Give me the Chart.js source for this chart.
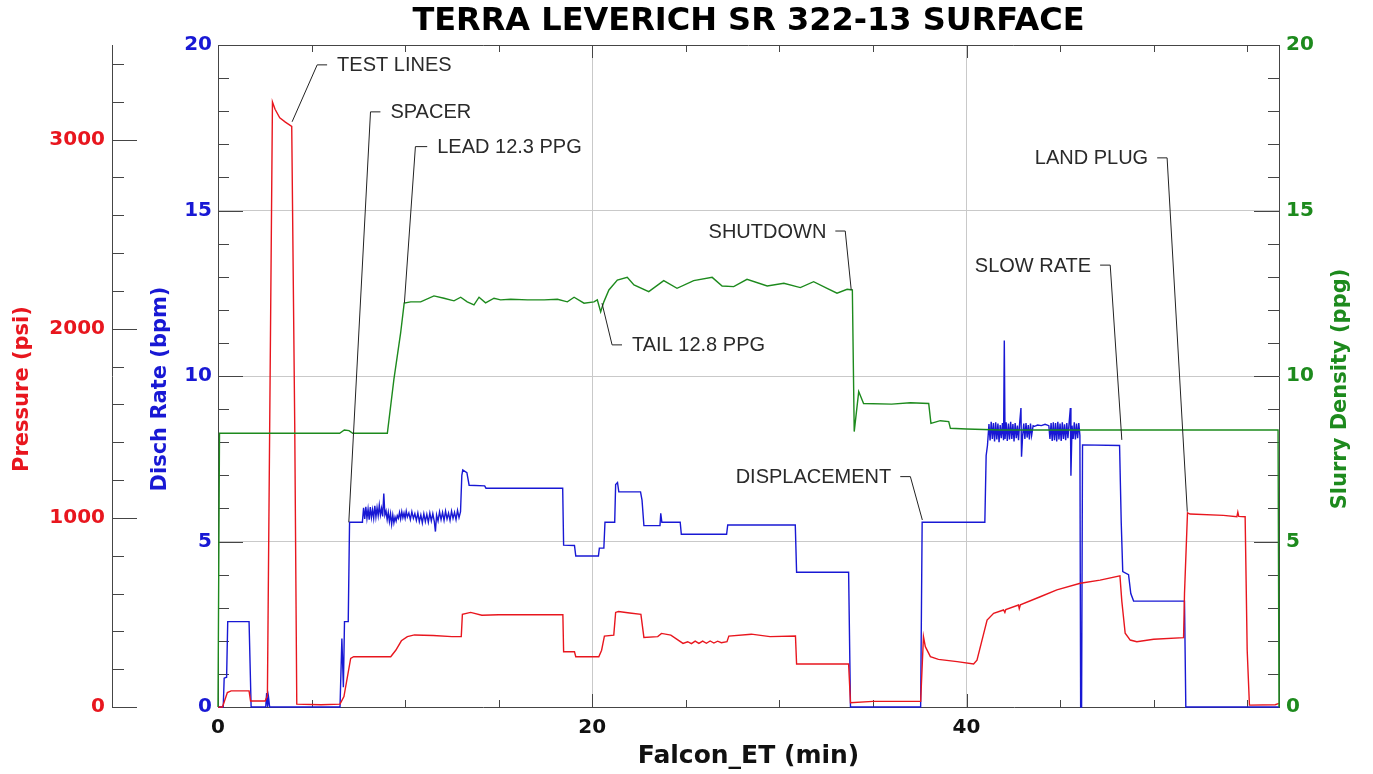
<!DOCTYPE html>
<html>
<head>
<meta charset="utf-8">
<title>TERRA LEVERICH SR 322-13 SURFACE</title>
<script src="https://cdn.jsdelivr.net/npm/chart.js@4.4.1/dist/chart.umd.min.js"></script>
<style>
  html, body { margin: 0; padding: 0; background: #fff; overflow: hidden; }
  #wrap { width: 1373px; height: 774px; }
</style>
</head>
<body>
<div id="wrap"><canvas id="jobChart" width="1373" height="774"></canvas></div>
<script>
// ---- data (time in minutes) ----
const chartTitle = 'TERRA LEVERICH SR 322-13 SURFACE';
const xTicks = [0, 20, 40];
const rateTicks = [0, 5, 10, 15, 20];
const pressureTicks = [0, 1000, 2000, 3000];
const densityTicks = [0, 5, 10, 15, 20];

// Disch Rate (bpm)
const rateT = [0, 0.28, 0.33, 0.46, 0.52, 1.66, 1.77, 2.55, 2.6, 2.65, 2.7, 2.76, 6.52, 6.62, 6.7, 6.76, 6.96, 7.03, 7.7,
  7.72, 7.78, 7.84, 7.90, 7.96, 8.02, 8.08, 8.14, 8.20, 8.26, 8.32, 8.38, 8.44, 8.50, 8.56, 8.62, 8.68, 8.74, 8.80, 8.86,
  8.92, 8.98, 9.04, 9.10, 9.16, 9.22, 9.28, 9.34, 9.40, 9.46, 9.52, 9.58, 9.64, 9.70, 9.76, 9.82, 9.88, 9.94, 10.00,
  10.06, 10.12, 10.20, 10.28, 10.36, 10.44, 10.52, 10.60, 10.68, 10.76, 10.84, 10.92, 11.00, 11.08, 11.16, 11.24, 11.32,
  11.40, 11.48, 11.56, 11.62, 11.68, 11.76, 11.84, 11.92, 12.00, 12.08, 12.16, 12.24, 12.32, 12.40, 12.48, 12.56, 12.64,
  12.72, 12.80, 12.88, 12.96,
  13.03, 13.08, 13.3, 13.42, 14.25, 14.32, 18.42, 18.47, 19.05, 19.12, 20.33, 20.38, 20.62, 20.68, 21.2, 21.25, 21.35,
  21.42, 22.58, 22.66, 22.76, 23.62, 23.66, 23.72, 24.7, 24.76, 27.18, 27.24, 30.85, 30.92, 33.7, 33.8, 37.55, 37.63, 40.98,
  41.05, 41.12, 41.20, 41.26, 41.32, 41.38, 41.44, 41.50, 41.56, 41.62, 41.68, 41.74, 41.80, 41.86, 41.92, 41.98, 42.02,
  42.06, 42.12, 42.18, 42.24, 42.30, 42.36, 42.42, 42.48, 42.54, 42.60, 42.66, 42.72, 42.78, 42.84, 42.91, 42.94, 43.00,
  43.06, 43.12, 43.18, 43.24, 43.30, 43.36, 43.42, 43.48, 43.56, 43.64, 43.80, 44.00, 44.20, 44.40, 44.46, 44.52, 44.58,
  44.64, 44.70, 44.76, 44.82, 44.88, 44.94, 45.00, 45.06, 45.12, 45.18, 45.24, 45.30, 45.36, 45.42, 45.48, 45.55, 45.58,
  45.64, 45.70, 45.76, 45.82, 45.88, 45.94, 46.00, 46.06,
  46.1, 46.15, 46.2, 48.18, 48.27, 48.35, 48.66, 48.78, 48.93, 51.65, 51.72, 56.7];
const rateV = [0, 0, 0.87, 0.9, 2.58, 2.58, 0, 0, 0.42, 0, 0.3, 0, 0, 2.07, 0.6, 2.58, 2.58, 5.58, 5.58,
  5.62, 6.02, 5.68, 6.05, 5.70, 5.98, 5.66, 6.04, 5.72, 5.96, 5.70, 6.08, 5.74, 6.02, 5.78, 6.10, 5.80, 6.00, 5.76, 6.45,
  5.80, 5.92, 5.66, 5.88, 5.60, 5.84, 5.52, 5.80, 5.56, 5.74, 5.62, 5.78, 5.70, 5.88, 5.68, 5.90, 5.72, 5.86, 5.70,
  5.92, 5.74, 5.86, 5.66, 5.90, 5.70, 5.84, 5.64, 5.86, 5.60, 5.80, 5.56, 5.84, 5.60, 5.82, 5.58, 5.86,
  5.62, 5.84, 5.60, 5.30, 5.80, 5.62, 5.90, 5.66, 5.88, 5.64, 5.92, 5.68, 5.86, 5.64, 5.92, 5.70, 5.88,
  5.66, 5.94, 5.72, 5.90,
  7.0, 7.16, 7.08, 6.7, 6.68, 6.61, 6.61, 4.89, 4.88, 4.56, 4.56, 4.8, 4.8, 5.58, 5.58, 6.72, 6.78,
  6.5, 6.5, 6.25, 5.48, 5.48, 5.85, 5.58, 5.58, 5.22, 5.22, 5.5, 5.5, 4.07, 4.07, 0, 0, 5.58, 5.58,
  7.6, 7.9, 8.55, 8.05, 8.62, 8.10, 8.58, 8.02, 8.60, 8.08, 8.56, 8.00, 8.52, 8.12, 8.58, 8.06, 11.07,
  8.10, 8.60, 8.04, 8.56, 8.08, 8.62, 8.10, 8.55, 8.02, 8.58, 8.12, 8.50, 8.06, 8.58, 9.03, 7.56, 8.20,
  8.56, 8.10, 8.58, 8.14, 8.52, 8.08, 8.56, 8.20, 8.50, 8.48, 8.52, 8.50, 8.54, 8.50, 8.10, 8.58, 8.04,
  8.60, 8.06, 8.58, 8.02, 8.62, 8.08, 8.56, 8.04, 8.60, 8.10, 8.54, 8.06, 8.58, 8.12, 8.56, 9.03, 6.99,
  8.50, 8.10, 8.60, 8.08, 8.56, 8.12, 8.58, 8.20,
  0, 0, 7.92, 7.9, 5.55, 4.09, 4.0, 3.43, 3.2, 3.2, 0, 0];

// Pressure (psi)
const pressureT = [0, 0.24, 0.5, 0.7, 1.66, 1.74, 2.52, 2.64, 2.91, 3.05, 3.3, 3.6, 3.94, 4.1, 4.21, 5.5, 6.52, 6.73,
  7.09, 7.25, 9.23, 9.5, 9.8, 10.12, 10.5, 11.5, 12.5, 13.0, 13.06, 13.5, 14.1, 15.0, 16.5, 18.43, 18.47, 19.05, 19.12,
  20.35, 20.5, 20.65, 21.15, 21.25, 21.4, 22.0, 22.6, 22.76, 23.5, 23.7, 24.2, 24.85, 25.1, 25.3, 25.5, 25.7, 25.9, 26.1,
  26.3, 26.5, 26.7, 26.9, 27.2, 27.3, 28.5, 29.5, 30.86, 30.92, 33.7, 33.8, 35.0, 37.55, 37.7, 37.8, 38.07, 38.5, 39.5,
  40.38, 40.56, 41.1, 41.45, 41.98, 42.05, 42.1, 42.78, 42.82, 42.88, 43.94, 44.83, 46.08, 47.14, 48.2, 48.3, 48.48,
  48.75, 49.1, 50.0, 51.6, 51.65, 51.81, 51.95, 53.73, 54.45, 54.5, 54.55, 54.89, 55.0, 55.12, 56.5, 56.7];
const pressureV = [0, 0, 76, 85, 85, 32, 32, 60, 3199, 3160, 3115, 3092, 3070, 1500, 15, 12, 15, 55,
  257, 266, 266, 300, 350, 372, 381, 378, 372, 372, 490, 500, 485, 488, 488, 488, 292, 292, 266,
  266, 300, 375, 380, 500, 505, 497, 490, 368, 372, 389, 380, 336, 345, 335, 348, 336, 348, 337,
  349, 338, 348, 340, 345, 375, 385, 372, 375, 227, 227, 23, 30, 30, 372, 319, 266, 252, 240,
  227, 248, 460, 495, 513, 500, 515, 539, 520, 540, 583, 619, 654, 671, 693, 560, 390,
  354, 345, 358, 367, 600, 1027, 1020, 1013, 1006, 1030, 1008, 1006, 300, 10, 12, 19];

// Slurry Density (ppg)
const densityT = [0, 0.08, 6.5, 6.75, 7.0, 7.2, 9.05, 9.4, 9.76, 9.95, 10.3, 10.83, 11.54, 12.08, 12.61, 12.97, 13.32,
  13.68, 13.95, 14.3, 14.75, 15.1, 15.64, 16.54, 17.43, 18.14, 18.67, 19.03, 19.56, 20.09, 20.27, 20.45, 20.62, 20.89,
  21.34, 21.87, 22.23, 23.02, 23.82, 24.53, 25.42, 26.41, 26.94, 27.56, 28.27, 29.35, 30.24, 31.12, 31.83, 32.55, 33.08,
  33.62, 33.9, 34.0, 34.24, 34.5, 36.0, 37.0, 37.98, 38.1, 38.6, 39.05, 39.14, 40.0, 41.8, 56.65, 56.7];
const densityV = [0, 8.27, 8.27, 8.37, 8.35, 8.27, 8.27, 9.9, 11.3, 12.2, 12.24, 12.24, 12.42, 12.35, 12.27, 12.38, 12.24,
  12.15, 12.38, 12.21, 12.35, 12.3, 12.32, 12.3, 12.3, 12.32, 12.24, 12.38, 12.2, 12.24, 12.3, 11.94, 12.24, 12.6,
  12.9, 12.98, 12.75, 12.55, 12.88, 12.65, 12.88, 12.98, 12.72, 12.7, 12.92, 12.72, 12.8, 12.67, 12.85, 12.65, 12.5,
  12.62, 12.6, 8.32, 9.53, 9.17, 9.15, 9.19, 9.17, 8.57, 8.65, 8.62, 8.42, 8.4, 8.37, 8.37, 0];

// event callouts: [minutes, rate-axis units]
const annoText = ['TEST LINES', 'SPACER', 'LEAD 12.3 PPG', 'SHUTDOWN', 'TAIL 12.8 PPG', 'DISPLACEMENT', 'SLOW RATE', 'LAND PLUG'];
const annoTip = [[3.96, 17.68], [6.99, 5.58], [9.96, 12.2], [33.84, 12.6], [20.52, 12.2], [37.64, 5.65], [48.3, 8.07], [51.8, 5.9]];
const annoElbow = [[5.30, 19.40], [8.15, 17.98], [10.55, 16.93], [33.52, 14.38], [21.06, 10.94], [37.0, 6.96], [47.68, 13.35], [50.72, 16.59]];
const annoEnd = [[5.83, 19.40], [8.68, 17.98], [11.18, 16.93], [32.99, 14.38], [21.59, 10.94], [36.46, 6.96], [47.14, 13.35], [50.19, 16.59]];

const RED = '#e8161e';
const BLUE = '#1818d4';
const GREEN = '#1d8a1d';
const AXIS = '#454545';
const GRID = '#c9c9c9';
const tickFont = { family: 'DejaVu Sans', size: 20, weight: 'bold' };
const plainLabel = v => String(v);

function toPoints(ts, vs) {
  return ts.map((t, i) => ({ x: t, y: vs[i] }));
}

const lineStyle = { pointRadius: 0, borderWidth: 1.4, tension: 0, fill: false, clip: 4 };

const datasets = [
  Object.assign({ label: 'Slurry Density', data: toPoints(densityT, densityV), yAxisID: 'yD', borderColor: GREEN, order: 1 }, lineStyle),
  Object.assign({ label: 'Pressure', data: toPoints(pressureT, pressureV), yAxisID: 'yP', borderColor: RED, order: 2 }, lineStyle),
  Object.assign({ label: 'Disch Rate', data: toPoints(rateT, rateV), yAxisID: 'y', borderColor: BLUE, order: 3 }, lineStyle)
];
annoText.forEach((txt, i) => {
  datasets.push({
    label: txt,
    data: [annoTip[i], annoElbow[i], annoEnd[i]].map(p => ({ x: p[0], y: p[1] })),
    yAxisID: 'y', borderColor: '#222', borderWidth: 1, pointRadius: 0, tension: 0, order: 0, clip: false
  });
});

// inward tick marks, top frame, rotated axis titles, callout text
const decorations = {
  id: 'decorations',
  beforeDatasetsDraw(chart) {
    const { ctx, chartArea: a, scales } = chart;
    ctx.save();
    ctx.strokeStyle = AXIS;
    ctx.lineWidth = 1;
    ctx.beginPath();
    ctx.moveTo(a.left, a.top + 0.5);
    ctx.lineTo(a.right, a.top + 0.5);
    for (let v = 5; v < scales.x.max; v += 5) {
      const px = Math.round(scales.x.getPixelForValue(v)) + 0.5;
      const len = v % 20 === 0 ? 13 : 7;
      ctx.moveTo(px, a.bottom); ctx.lineTo(px, a.bottom - len);
      ctx.moveTo(px, a.top); ctx.lineTo(px, a.top + len);
    }
    for (let v = 1; v < 20; v++) {
      const py = Math.round(scales.y.getPixelForValue(v)) + 0.5;
      const len = v % 5 === 0 ? 25 : 11;
      ctx.moveTo(a.left, py); ctx.lineTo(a.left + len, py);
      ctx.moveTo(a.right, py); ctx.lineTo(a.right - len, py);
    }
    const p = scales.yP;
    for (let v = 0; v <= 3400; v += 200) {
      const py = Math.round(p.getPixelForValue(v)) + 0.5;
      const len = v % 1000 === 0 ? 25 : 12;
      ctx.moveTo(p.right, py); ctx.lineTo(p.right + len, py);
    }
    ctx.stroke();
    ctx.restore();
  },
  afterDraw(chart) {
    const { ctx, scales } = chart;
    ctx.save();
    ctx.font = '20px "Liberation Sans", Arial, sans-serif';
    ctx.fillStyle = '#2a2a2a';
    ctx.textBaseline = 'middle';
    annoText.forEach((txt, i) => {
      const ex = scales.x.getPixelForValue(annoEnd[i][0]);
      const ey = scales.y.getPixelForValue(annoEnd[i][1]);
      const toRight = annoEnd[i][0] > annoElbow[i][0];
      ctx.textAlign = toRight ? 'left' : 'right';
      ctx.fillText(txt, toRight ? ex + 10 : ex - 9, ey + 1);
    });
    const vTitle = (txt, x, color) => {
      ctx.save();
      ctx.translate(x, 389);
      ctx.rotate(-Math.PI / 2);
      ctx.font = 'bold 21px "DejaVu Sans", sans-serif';
      ctx.fillStyle = color;
      ctx.textAlign = 'center';
      ctx.textBaseline = 'middle';
      ctx.fillText(txt, 0, 0);
      ctx.restore();
    };
    vTitle('Pressure (psi)', 23, RED);
    vTitle('Disch Rate (bpm)', 161, BLUE);
    vTitle('Slurry Density (ppg)', 1341, GREEN);
    ctx.restore();
  }
};

const tickSet = list => scale => { scale.ticks = list.map(v => ({ value: v })); };

new Chart(document.getElementById('jobChart'), {
  type: 'line',
  data: { datasets },
  options: {
    responsive: false,
    devicePixelRatio: 1,
    animation: false,
    events: [],
    layout: { padding: 0 },
    plugins: {
      legend: { display: false },
      tooltip: { enabled: false },
      title: {
        display: true,
        fullSize: false,
        text: chartTitle,
        color: '#000',
        font: { family: 'DejaVu Sans', size: 32, weight: 'bold', lineHeight: 1 },
        padding: { top: 6, bottom: 7 }
      }
    },
    scales: {
      x: {
        type: 'linear', min: 0, max: 56.7,
        afterBuildTicks: tickSet(xTicks),
        afterFit: s => { s.height = 67; },
        grid: { color: c => (c.tick && c.tick.value > 0) ? GRID : 'rgba(0,0,0,0)', drawTicks: false },
        border: { color: AXIS },
        ticks: { color: '#111', font: tickFont, padding: 9, maxRotation: 0, autoSkip: false, callback: plainLabel },
        title: {
          display: true, text: 'Falcon_ET (min)', color: '#111',
          font: { family: 'DejaVu Sans', size: 25, weight: 'bold' },
          padding: { top: 0, bottom: 3 }
        }
      },
      y: {
        position: 'left', weight: 0, min: 0, max: 20,
        afterBuildTicks: tickSet(rateTicks),
        afterFit: s => { s.width = 106; },
        grid: { color: c => (c.tick && c.tick.value > 0 && c.tick.value < 20) ? GRID : 'rgba(0,0,0,0)', drawTicks: false },
        border: { color: AXIS },
        ticks: { color: BLUE, font: tickFont, padding: 6, callback: plainLabel }
      },
      yP: {
        position: 'left', weight: 1, min: 0, max: 3500,
        afterBuildTicks: tickSet(pressureTicks),
        afterFit: s => { s.width = 112; },
        grid: { drawOnChartArea: false, drawTicks: false },
        border: { color: AXIS },
        ticks: { color: RED, font: tickFont, padding: 7, callback: plainLabel }
      },
      yD: {
        position: 'right', min: 0, max: 20,
        afterBuildTicks: tickSet(densityTicks),
        afterFit: s => { s.width = 94; },
        grid: { drawOnChartArea: false, drawTicks: false },
        border: { color: AXIS },
        ticks: { color: GREEN, font: tickFont, padding: 7, callback: plainLabel }
      }
    }
  },
  plugins: [decorations]
});
</script>
</body>
</html>
